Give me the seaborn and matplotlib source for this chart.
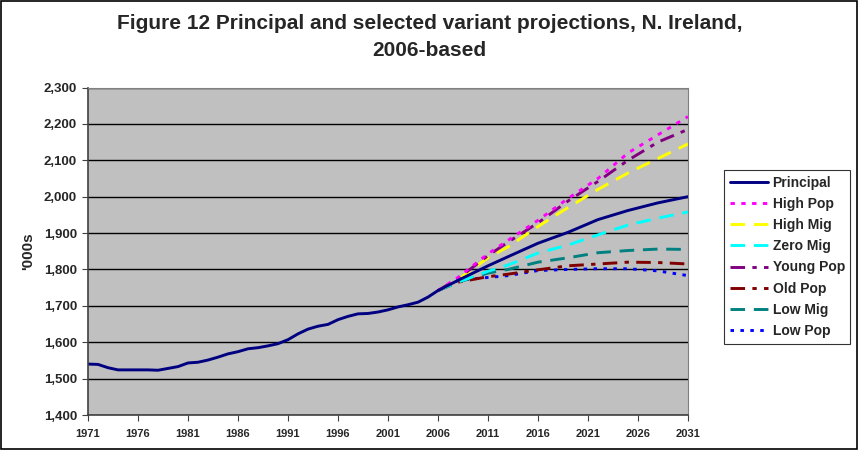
import numpy as np
import pandas as pd
import matplotlib.pyplot as plt
import seaborn as sns
from matplotlib.patches import Rectangle
from matplotlib.ticker import FuncFormatter

# ── Data ('000s) ──────────────────────────────────────────────────────────────
hist_years = list(range(1971, 2006))
hist_pop = [1540, 1539, 1530, 1524, 1524, 1524, 1524, 1523, 1528, 1533,
            1543, 1545, 1551, 1559, 1568, 1574, 1582, 1585, 1590, 1596,
            1607, 1623, 1636, 1644, 1649, 1662, 1671, 1678, 1679, 1683,
            1689, 1697, 1703, 1710, 1724]

proj_years = [2006, 2008, 2011, 2013, 2016, 2019, 2022, 2025, 2028, 2031]
principal = [1742, 1770, 1810, 1835, 1872, 1902, 1937, 1962, 1983, 2000]
high_pop  = [1742, 1778, 1843, 1880, 1935, 1995, 2050, 2120, 2170, 2220]
high_mig  = [1742, 1772, 1832, 1862, 1918, 1970, 2020, 2065, 2105, 2145]
zero_mig  = [1742, 1765, 1795, 1812, 1845, 1867, 1895, 1922, 1941, 1958]
young_pop = [1742, 1775, 1838, 1875, 1928, 1988, 2042, 2100, 2150, 2185]
old_pop   = [1742, 1765, 1780, 1787, 1799, 1810, 1815, 1820, 1819, 1815]
low_mig   = [1742, 1765, 1790, 1800, 1820, 1832, 1846, 1852, 1856, 1855]
low_pop   = [1742, 1770, 1778, 1783, 1797, 1800, 1802, 1802, 1796, 1783]

series_names = ["Principal", "High Pop", "High Mig", "Zero Mig",
                "Young Pop", "Old Pop", "Low Mig", "Low Pop"]
proj_values = [principal, high_pop, high_mig, zero_mig,
               young_pop, old_pop, low_mig, low_pop]

colors = {
    "Principal": "#000080", "High Pop": "#FF00FF", "High Mig": "#FFFF00",
    "Zero Mig": "#00FFFF", "Young Pop": "#800080", "Old Pop": "#800000",
    "Low Mig": "#008080", "Low Pop": "#0000FF",
}
dashes = {
    "Principal": "", "High Pop": (1.5, 2.2), "High Mig": (5, 3),
    "Zero Mig": (5, 3), "Young Pop": (5, 2.5, 1.5, 2.5),
    "Old Pop": (5, 2.5, 1.5, 2.5), "Low Mig": (5, 3), "Low Pop": (1.2, 2.2),
}

# ── Long-form frame ───────────────────────────────────────────────────────────
rows = []
for y, v in zip(hist_years, hist_pop):
    rows.append({"year": y, "value": v, "series": "Principal"})
for name, vals in zip(series_names, proj_values):
    for y, v in zip(proj_years, vals):
        rows.append({"year": y, "value": v, "series": name})
df = pd.DataFrame(rows)

# ── Plot ──────────────────────────────────────────────────────────────────────
sns.set_style("white")
plt.rcParams["font.family"] = ["Liberation Sans", "DejaVu Sans"]
plt.rcParams["font.weight"] = "bold"

fig = plt.figure(figsize=(8.59, 4.5), dpi=100)
ax = fig.add_axes([88 / 859, 1 - 415 / 450, 600 / 859, 327.5 / 450])
ax.set_facecolor("#C0C0C0")

# draw low layers first so Principal sits on top
draw_order = ["Low Pop", "Low Mig", "Old Pop", "Zero Mig", "High Mig",
              "Young Pop", "High Pop", "Principal"]
for name in draw_order:
    sub = df[df["series"] == name]
    sns.lineplot(data=sub, x="year", y="value", ax=ax, color=colors[name],
                 linewidth=2.1, legend=False, sort=True)
    line = ax.get_lines()[-1]
    if dashes[name]:
        line.set_dashes(dashes[name])
    line.set_label(name)

ax.set_xlim(1971, 2031)
ax.set_ylim(1400, 2300)
ax.set_xticks(list(range(1971, 2032, 5)))
ax.set_yticks(list(range(1400, 2301, 100)))
ax.yaxis.set_major_formatter(FuncFormatter(lambda v, p: f"{int(v):,}"))
ax.grid(axis="y", color="black", linewidth=1.0)
ax.grid(axis="x", visible=False)
for s in ["top", "right"]:
    ax.spines[s].set_color("#808080")
for s in ["left", "bottom"]:
    ax.spines[s].set_color("#404040")
    ax.spines[s].set_linewidth(1.2)
ax.tick_params(axis="x", labelsize=8, length=4, direction="out", bottom=True,
               color="#404040", pad=6)
ax.tick_params(axis="y", labelsize=9.5, length=4, direction="out", left=True,
               color="#404040", pad=4)
for lbl in ax.get_xticklabels() + ax.get_yticklabels():
    lbl.set_fontweight("bold")
ax.set_xlabel("")
ax.set_ylabel("'000s", fontsize=11, fontweight="bold", labelpad=6)

fig.text(0.5, 1 - 37 / 450,
         "Figure 12 Principal and selected variant projections, N. Ireland,\n2006-based",
         ha="center", va="center", fontsize=15, fontweight="bold", linespacing=1.55)

handles = {l.get_label(): l for l in ax.get_lines()}
leg = fig.legend([handles[n] for n in series_names], series_names,
                 loc="upper left", bbox_to_anchor=(724 / 859, 1 - 170 / 450),
                 frameon=True, fancybox=False, edgecolor="black",
                 fontsize=10, handlelength=2.8, handletextpad=0.3,
                 labelspacing=0.52, borderpad=0.4, borderaxespad=0)
leg.get_frame().set_linewidth(0.8)
for t in leg.get_texts():
    t.set_fontweight("bold")

fig.patches.append(Rectangle((0.001, 0.002), 0.997, 0.995, transform=fig.transFigure,
                             fill=False, edgecolor="black", linewidth=1.2))

fig.savefig("out.png", dpi=100)
plt.close(fig)
